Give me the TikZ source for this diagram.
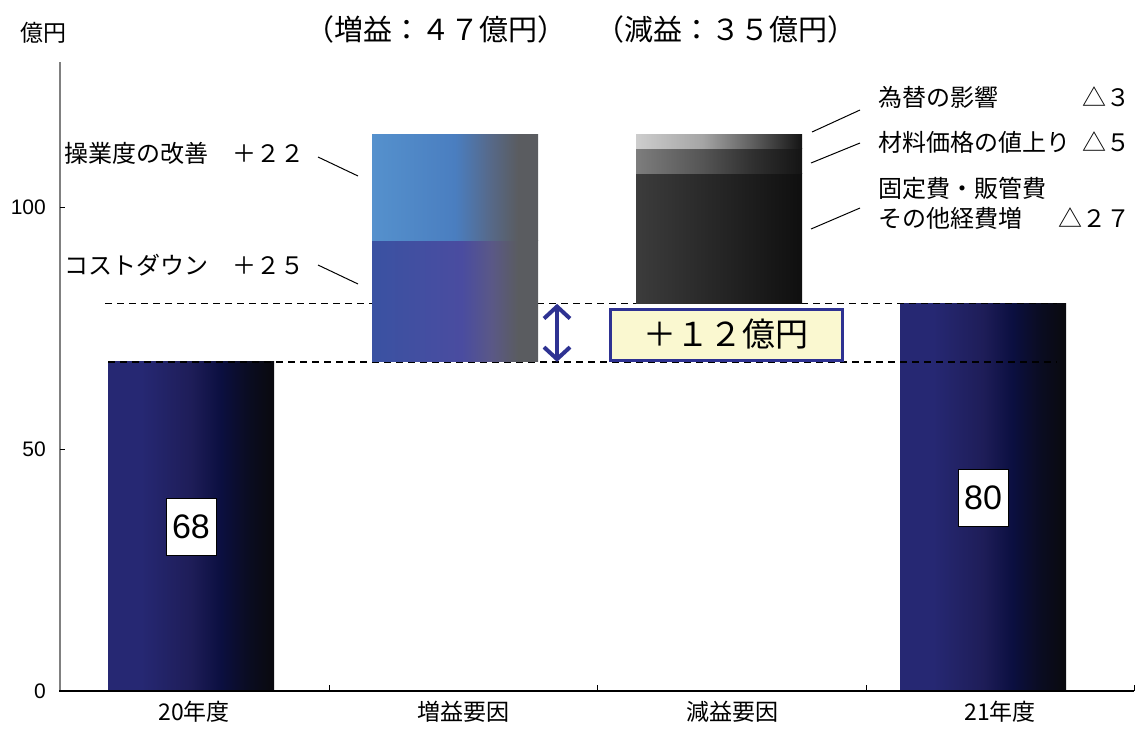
\documentclass[tikz,border=0pt]{standalone}
\usepackage{fontspec}
\setmainfont{Noto Sans CJK JP}
\newfontfamily\numfont{Liberation Sans}
\usetikzlibrary{arrows.meta}

\definecolor{navyA}{RGB}{38,40,115}
\definecolor{navyB}{RGB}{30,29,88}
\definecolor{navyC}{RGB}{11,15,64}
\definecolor{navyD}{RGB}{10,10,14}
\definecolor{skyA}{RGB}{85,145,205}
\definecolor{skyB}{RGB}{74,126,192}
\definecolor{skyC}{RGB}{86,106,140}
\definecolor{slate}{RGB}{90,92,96}
\definecolor{indA}{RGB}{58,82,162}
\definecolor{indB}{RGB}{74,76,160}
\definecolor{indC}{RGB}{90,88,135}
\definecolor{greyA}{RGB}{205,205,205}
\definecolor{greyB}{RGB}{165,165,165}
\definecolor{greyC}{RGB}{95,95,95}
\definecolor{greyD}{RGB}{20,20,20}
\definecolor{midA}{RGB}{125,125,125}
\definecolor{midB}{RGB}{85,85,85}
\definecolor{midC}{RGB}{48,48,48}
\definecolor{darkA}{RGB}{60,60,60}
\definecolor{darkB}{RGB}{42,42,42}
\definecolor{darkC}{RGB}{15,15,15}
\definecolor{gapnavy}{RGB}{46,50,146}
\definecolor{gapfill}{RGB}{250,248,208}

% the bar fills the middle of the shading: 25bp = left edge, 75bp = right edge
\pgfdeclarehorizontalshading{yearbar}{100bp}{color(0bp)=(navyA); color(35bp)=(navyA); color(50bp)=(navyB); color(59bp)=(navyC); color(67bp)=(navyD!60!navyC); color(75bp)=(navyD); color(100bp)=(navyD)}
\pgfdeclarehorizontalshading{sogyobar}{100bp}{color(0bp)=(skyA); color(25bp)=(skyA); color(50bp)=(skyB); color(60bp)=(skyC); color(69bp)=(slate); color(100bp)=(slate)}
\pgfdeclarehorizontalshading{costbar}{100bp}{color(0bp)=(indA); color(25bp)=(indA); color(52bp)=(indB); color(61bp)=(indC); color(69bp)=(slate); color(100bp)=(slate)}
\pgfdeclarehorizontalshading{kawasebar}{100bp}{color(0bp)=(greyA); color(25bp)=(greyA); color(45bp)=(greyB); color(60bp)=(greyC); color(75bp)=(greyD); color(100bp)=(greyD)}
\pgfdeclarehorizontalshading{zairyobar}{100bp}{color(0bp)=(midA); color(25bp)=(midA); color(45bp)=(midB); color(60bp)=(midC); color(75bp)=(greyD); color(100bp)=(greyD)}
\pgfdeclarehorizontalshading{koteibar}{100bp}{color(0bp)=(darkA); color(25bp)=(darkA); color(45bp)=(darkB); color(75bp)=(darkC); color(100bp)=(darkC)}

% block of a bar: [shading]{left x}{from}{to}
\newcommand{\drawblock}[4][]{
    \shade[#1] (#2,#3) rectangle ({#2+166},#4);
}

\tikzset{
    jptext/.style={font=\fontsize{24}{30}\selectfont, inner sep=0pt},
    titletext/.style={font=\fontsize{29}{32}\selectfont, inner sep=0pt},
    cattext/.style={font=\fontsize{23}{26}\selectfont, inner sep=0pt},
    ticktext/.style={font=\numfont\fontsize{21}{24}\selectfont, inner sep=0pt, anchor=east},
    valbox/.style={draw=black, line width=0.8pt, fill=white, font=\numfont\fontsize{34}{36}\selectfont, minimum width=50pt, minimum height=57pt, inner sep=0pt},
    gapbox/.style={draw=gapnavy, line width=3pt, fill=gapfill, font=\fontsize{33}{36}\selectfont, minimum width=232pt, minimum height=51pt, inner sep=0pt},
    leader/.style={black, line width=1pt},
    guide/.style={black, line width=1.3pt, dash pattern=on 7pt off 5pt},
    gaparrow/.style={gapnavy, line width=4pt, {Straight Barb[length=12pt,width=26pt]}-{Straight Barb[length=12pt,width=26pt]}}
}

\begin{document}
\begin{tikzpicture}[x=1pt, y=-1pt]
    \useasboundingbox (0,0) rectangle (1137,731);

    % Titles
    \node[titletext] (gaintitle) at (436,29) {（増益：４７億円）};
    \node[titletext] (losstitle) at (726,29) {（減益：３５億円）};
    \node[jptext, font=\fontsize{23}{26}\selectfont] (unit) at (43,33) {億円};

    \begin{scope}[yshift=-691pt, y=4.84pt]
        % Bars
        \drawblock[shading=yearbar]{108}{0}{68}
        \drawblock[shading=yearbar]{900}{0}{80}

        % Guide lines
        \coordinate (top80a) at (105,80);
        \coordinate (top80b) at (1057,80);
        \coordinate (top68a) at (108,68);
        \coordinate (top68b) at (1057,68);
        \draw[guide] (top80a) -- (top80b);
        \draw[guide] (top68a) -- (top68b);

        \drawblock[shading=costbar]{372}{68}{93}
        \drawblock[shading=sogyobar]{372}{93}{115}
        \drawblock[shading=koteibar]{636}{80}{107}
        \drawblock[shading=zairyobar]{636}{107}{112}
        \drawblock[shading=kawasebar]{636}{112}{115}

        % Axes
        \draw[gray, line width=2pt] (60,0) -- (60,130);
        \draw[black, line width=2pt] (59,0) -- (1134,0);
        \foreach \x in {329, 597, 866, 1134}
            \draw[black, line width=1pt] (\x,0) -- (\x,1.3);
        \foreach \v in {50, 100}
            \draw[black, line width=1pt] (60,\v) -- (65,\v);
        \foreach \v in {0, 50, 100}
            \node[ticktext] (tick\v) at (46,\v) {\v};

        % Values
        \node[valbox] (v68) at (191,34) {68};
        \node[valbox] (v80) at (983,40) {80};

        % Gap
        \coordinate (gaptop) at (557,80);
        \coordinate (gapbot) at (557,68);
        \draw[gaparrow] (gaptop) -- (gapbot);
    \end{scope}

    \node[gapbox] (gap) at (726,334.5) {＋１２億円};

    % Categories
    \node[cattext] (c1) at (194,712) {20年度};
    \node[cattext] (c2) at (463,712) {増益要因};
    \node[cattext] (c3) at (732,712) {減益要因};
    \node[cattext] (c4) at (1000,712) {21年度};

    % Gain labels
    \node[jptext, anchor=east] (sogyo) at (305,153) {操業度の改善　＋２２};
    \node[jptext, anchor=east] (cost) at (305,265) {コストダウン　＋２５};
    \coordinate (sogyoend) at (358,176);
    \coordinate (costend) at (358,284);
    \draw[leader] ([shift={(13,4)}]sogyo.east) -- (sogyoend);
    \draw[leader] ([shift={(13,0)}]cost.east) -- (costend);

    % Loss labels
    \node[jptext, anchor=west] (kawase) at (878,97) {\makebox[252pt][l]{為替の影響\hfill △３}};
    \node[jptext, anchor=west] (zairyo) at (878,142) {\makebox[252pt][l]{材料価格の値上り\hfill △５}};
    \node[jptext, anchor=west, align=left] (kotei) at (878,203) {\makebox[252pt][l]{固定費・販管費}\\\makebox[252pt][l]{その他経費増\hfill △２７}};
    \coordinate (kawaseend) at (812,132);
    \coordinate (zairyoend) at (811,163);
    \coordinate (koteiend) at (811,229);
    \draw[leader] ([shift={(-18,13)}]kawase.west) -- (kawaseend);
    \draw[leader] ([shift={(-18,1)}]zairyo.west) -- (zairyoend);
    \draw[leader] ([shift={(-18,5)}]kotei.west) -- (koteiend);

\end{tikzpicture}
\end{document}
